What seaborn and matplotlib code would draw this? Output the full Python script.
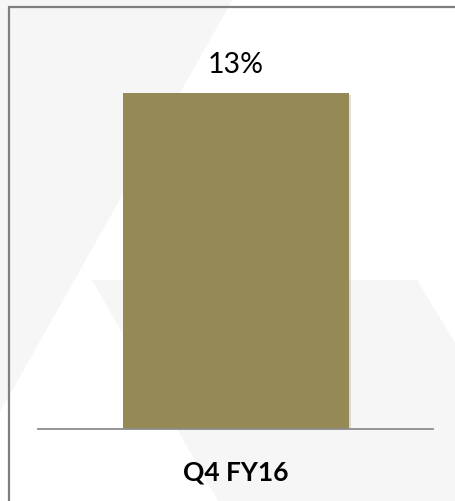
import matplotlib
matplotlib.use("Agg")
import matplotlib.pyplot as plt
import matplotlib.patheffects as pe
from matplotlib.patches import Polygon
from matplotlib.lines import Line2D
import pandas as pd
import seaborn as sns

# Data
periods = ["Q4 FY16"]
growth = [13]
bar_color = "#958A55"

sns.set_theme(style="white")
plt.rcParams["font.family"] = ["Lato", "DejaVu Sans"]

W, H = 455, 502
fig = plt.figure(figsize=(W / 100, H / 100), dpi=100)
fig.patch.set_facecolor("white")

def px(x, y):
    """Pixel coordinates (origin top-left) to figure fraction."""
    return (x / W, 1 - y / H)

# Light background watermark shapes
wm = "#f6f6f6"
fig.patches.append(Polygon([px(0, 0), px(233, 0), px(0, 413)], closed=True,
                           transform=fig.transFigure, facecolor=wm,
                           edgecolor="none", zorder=-10))
fig.patches.append(Polygon([px(92, 281), px(417, 281), px(455, 344),
                            px(455, 502), px(218, 502)], closed=True,
                           transform=fig.transFigure, facecolor=wm,
                           edgecolor="none", zorder=-10))

# Frame (top and left edges visible)
fig.lines.append(Line2D([px(8.5, 7.5)[0], px(460, 7.5)[0]],
                        [px(8.5, 7.5)[1], px(460, 7.5)[1]],
                        transform=fig.transFigure, color="#7f7f7f", lw=1.6,
                        zorder=-5))
fig.lines.append(Line2D([px(8.5, 7.5)[0], px(8.5, 510)[0]],
                        [px(8.5, 7.5)[1], px(8.5, 510)[1]],
                        transform=fig.transFigure, color="#7f7f7f", lw=1.6,
                        zorder=-5))

# Axes area
ax_left, ax_right = 38, 433
ax_top, ax_bottom = 20, 430
ax = fig.add_axes([ax_left / W, 1 - ax_bottom / H,
                   (ax_right - ax_left) / W, (ax_bottom - ax_top) / H])
ax.set_facecolor("none")
ax.set_zorder(5)

df = pd.DataFrame({"period": periods, "growth": growth})
sns.barplot(data=df, x="period", y="growth", color=bar_color,
            saturation=1, width=0.8, ax=ax)

bar_px_height = ax_bottom - 94
ax.set_ylim(0, growth[0] * (ax_bottom - ax_top) / bar_px_height)
ax.set_xlim(-0.701, 0.697)

for patch in ax.patches:
    patch.set_edgecolor("none")
    patch.set_linewidth(0)
    patch.set_path_effects([pe.SimplePatchShadow(offset=(1.5, -1.5),
                                                 shadow_rgbFace="#000000",
                                                 alpha=0.12),
                            pe.Normal()])

for i, v in enumerate(growth):
    ax.annotate(f"{v}%", (i, v), xytext=(0, 21), textcoords="offset points",
                ha="center", va="center", fontsize=20.5, color="#000000")

ax.set_xlabel("")
ax.set_ylabel("")
ax.set_yticks([])
ax.tick_params(axis="x", length=0, pad=22, labelsize=19)
for lbl in ax.get_xticklabels():
    lbl.set_fontweight("bold")
    lbl.set_color("#000000")

for s in ["top", "right", "left"]:
    ax.spines[s].set_visible(False)
ax.spines["bottom"].set_color("#8c8c8c")
ax.spines["bottom"].set_linewidth(1.3)
ax.spines["bottom"].set_zorder(3)

fig.savefig("out.png", dpi=100)
